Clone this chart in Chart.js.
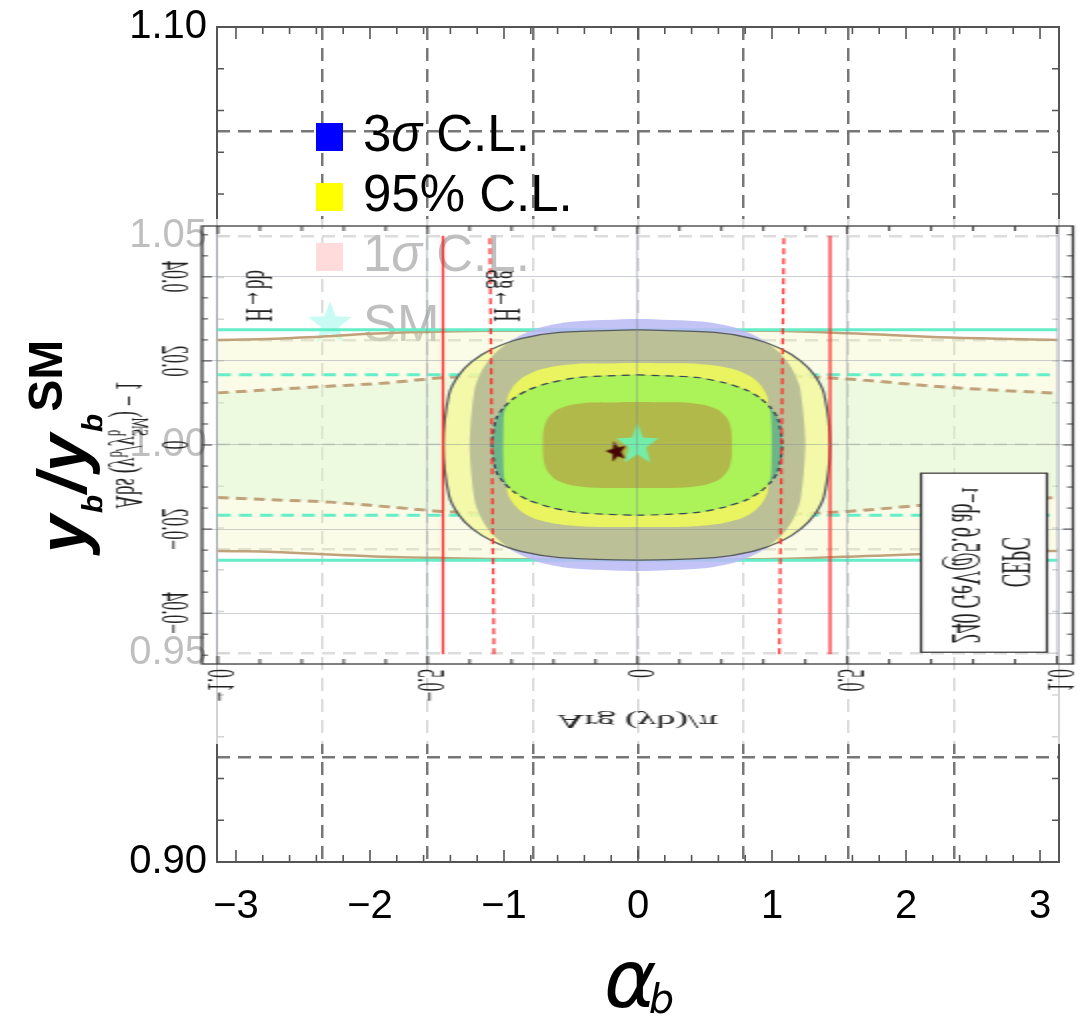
<!DOCTYPE html>
<html>
<head>
<meta charset="utf-8">
<script src="https://cdn.jsdelivr.net/npm/chart.js@4.4.1/dist/chart.umd.min.js"></script>
<style>
  html, body { margin: 0; padding: 0; background: #fff; }
  #wrap { position: relative; width: 1080px; height: 1019px; overflow: hidden; }
  #outer { position: absolute; left: 0; top: 0; }
  /* the inset is drawn at half width, then stretched and mirrored top-to-bottom */
  #inset { position: absolute; left: 102px; top: 219px; transform-origin: 0 50%; transform: scale(2, -1); }
</style>
</head>
<body>
<div id="wrap">
  <canvas id="outer" width="1080" height="1019" style="width:1080px;height:1019px"></canvas>
  <canvas id="inset" width="488" height="525" style="width:488px;height:525px"></canvas>
</div>
<script>
// ---------- outer axes: alpha_b vs y_b / y_b^SM ----------
const alphaTicks = [-3, -2, -1, 0, 1, 2, 3];
const alphaGrid = [-3 * Math.PI / 4, -Math.PI / 2, -Math.PI / 4, 0, Math.PI / 4, Math.PI / 2, 3 * Math.PI / 4];
const ratioGrid = [0.90, 0.925, 0.95, 0.975, 1.00, 1.025, 1.05, 1.075, 1.10];
const ratioTicks = [0.90, 0.95, 1.00, 1.05, 1.10];

const legendLabels = ['3σ C.L.', '95% C.L.', '1σ C.L.', 'SM'];
const legendColors = ['#0000ff', '#ffff00', '#ff7070', '#25f0d2'];

// ---------- inset: Arg(y_b)/pi vs Abs(y_b/y_b^SM) - 1 ----------
const argTicks = [-1, -0.5, 0, 0.5, 1];
const argTickText = ['−1.0', '−0.5', '0', '0.5', '1.0'];
const absTicks = [-0.04, -0.02, 0, 0.02, 0.04];
const absTickText = ['−0.04', '−0.02', '0', '0.02', '0.04'];

const bandX = [-1, -0.883, -0.75, -0.607, -0.464, -0.3, 0, 0.3, 0.5, 0.745, 1];
const brownUpper = [0.0250, 0.0252, 0.0258, 0.0266, 0.0270, 0.0272, 0.0273, 0.0272, 0.0266, 0.0256, 0.0250];
const brownLower = [-0.0252, -0.0254, -0.0260, -0.0266, -0.0269, -0.0272, -0.0273, -0.0272, -0.0266, -0.0257, -0.0252];
const brownDashUpper = [0.0124, 0.0131, 0.0139, 0.0147, 0.0160, 0.0165, 0.0167, 0.0166, 0.0157, 0.0137, 0.0123];
const brownDashLower = [-0.0125, -0.0130, -0.0135, -0.0146, -0.0158, -0.0165, -0.0167, -0.0166, -0.0158, -0.0138, -0.0125];

const cyanX = [-1, 1];
const cyanUpper = [0.0274, 0.0274];
const cyanLower = [-0.0274, -0.0274];
const cyanDashUpper = [0.0167, 0.0167];
const cyanDashLower = [-0.0167, -0.0167];

const lavenderRegion = [[0,0.0300],[0.16,0.0293],[0.24,0.0277],[0.30,0.0250],[0.34,0.0218],[0.368,0.0182],[0.388,0.0133],[0.40,0],[0.388,-0.0133],[0.368,-0.0182],[0.34,-0.0218],[0.30,-0.0250],[0.24,-0.0277],[0.16,-0.0293],[0,-0.0300],[-0.16,-0.0293],[-0.24,-0.0277],[-0.30,-0.0250],[-0.34,-0.0218],[-0.368,-0.0182],[-0.388,-0.0133],[-0.40,0],[-0.388,0.0133],[-0.368,0.0182],[-0.34,0.0218],[-0.30,0.0250],[-0.24,0.0277],[-0.16,0.0293],[0,0.0300]];
const paleYellowRegion = [[0,0.0274],[0.184,0.0268],[0.275,0.0253],[0.344,0.0228],[0.390,0.0199],[0.422,0.0166],[0.445,0.0121],[0.459,0],[0.445,-0.0121],[0.422,-0.0166],[0.390,-0.0199],[0.344,-0.0228],[0.275,-0.0253],[0.184,-0.0268],[0,-0.0274],[-0.185,-0.0268],[-0.278,-0.0253],[-0.347,-0.0228],[-0.394,-0.0199],[-0.426,-0.0166],[-0.449,-0.0121],[-0.463,0],[-0.449,0.0121],[-0.426,0.0166],[-0.394,0.0199],[-0.347,0.0228],[-0.278,0.0253],[-0.185,0.0268],[0,0.0274]];
const overlapRegion = [[0,0.0274],[0.16,0.0270],[0.24,0.0260],[0.30,0.0246],[0.34,0.0218],[0.368,0.0182],[0.388,0.0133],[0.40,0],[0.388,-0.0133],[0.368,-0.0182],[0.34,-0.0218],[0.30,-0.0246],[0.24,-0.0260],[0.16,-0.0270],[0,-0.0274],[-0.16,-0.0270],[-0.24,-0.0260],[-0.30,-0.0246],[-0.34,-0.0218],[-0.368,-0.0182],[-0.388,-0.0133],[-0.40,0],[-0.388,0.0133],[-0.368,0.0182],[-0.34,0.0218],[-0.30,0.0246],[-0.24,0.0260],[-0.16,0.0270],[0,0.0274]];
const yellowCore = [[0,0.0195],[0.128,0.0194],[0.192,0.0188],[0.24,0.0177],[0.272,0.0162],[0.294,0.0142],[0.310,0.0113],[0.32,0],[0.310,-0.0113],[0.294,-0.0142],[0.272,-0.0162],[0.24,-0.0177],[0.192,-0.0188],[0.128,-0.0194],[0,-0.0195],[-0.128,-0.0194],[-0.192,-0.0188],[-0.24,-0.0177],[-0.272,-0.0162],[-0.294,-0.0142],[-0.310,-0.0113],[-0.32,0],[-0.310,0.0113],[-0.294,0.0142],[-0.272,0.0162],[-0.24,0.0177],[-0.192,0.0188],[-0.128,0.0194],[0,0.0195]];
const tealCore = [[0,0.0167],[0.138,0.0161],[0.207,0.0148],[0.259,0.0131],[0.293,0.0111],[0.317,0.0089],[0.335,0.0062],[0.345,0],[0.335,-0.0062],[0.317,-0.0089],[0.293,-0.0111],[0.259,-0.0131],[0.207,-0.0148],[0.138,-0.0161],[0,-0.0167],[-0.139,-0.0161],[-0.208,-0.0148],[-0.260,-0.0131],[-0.295,-0.0111],[-0.319,-0.0089],[-0.337,-0.0062],[-0.347,0],[-0.337,0.0062],[-0.319,0.0089],[-0.295,0.0111],[-0.260,0.0131],[-0.208,0.0148],[-0.139,0.0161],[0,0.0167]];
const limeCore = [[0,0.0167],[0.138,0.0161],[0.207,0.0148],[0.259,0.0131],[0.293,0.0111],[0.310,0.0096],[0.318,0.0075],[0.32,0],[0.318,-0.0075],[0.310,-0.0096],[0.293,-0.0111],[0.259,-0.0131],[0.207,-0.0148],[0.138,-0.0161],[0,-0.0167],[-0.139,-0.0161],[-0.208,-0.0148],[-0.260,-0.0131],[-0.295,-0.0111],[-0.310,-0.0096],[-0.318,-0.0075],[-0.32,0],[-0.318,0.0075],[-0.310,0.0096],[-0.295,0.0111],[-0.260,0.0131],[-0.208,0.0148],[-0.139,0.0161],[0,0.0167]];
const oliveCore = [[0,0.0102],[0.11,0.0101],[0.16,0.0095],[0.195,0.0082],[0.216,0.0060],[0.224,0.0033],[0.225,0],[0.224,-0.0033],[0.216,-0.0060],[0.195,-0.0082],[0.16,-0.0095],[0.11,-0.0101],[0,-0.0102],[-0.11,-0.0101],[-0.16,-0.0095],[-0.195,-0.0082],[-0.216,-0.0060],[-0.224,-0.0033],[-0.225,0],[-0.224,0.0033],[-0.216,0.0060],[-0.195,0.0082],[-0.16,0.0095],[-0.11,0.0101],[0,0.0102]];

const bbLimit = [[-0.4635, -0.0498], [-0.4635, 0.0498]];
const bbLimitRight = [[0.459, -0.0498], [0.459, 0.0498]];
const ggLimit = [[-0.342, -0.0498], [-0.352, 0.0498]];
const ggLimitRight = [[0.338, -0.0498], [0.349, 0.0498]];

const smPoint = [[0, 0]];
const bestFit = [[-0.05, -0.0016]];

const channelLabels = ['H→bb', 'H→gg'];
const channelX = [-0.909, -0.32];
const channelY = 0.0355;

// ---------- helpers ----------
function range(a, b, step) {
  const out = [];
  for (let k = 0; a + k * step <= b + step / 1000; k++) out.push(+(a + k * step).toFixed(6));
  return out;
}
const onList = (v, list) => list.some(m => Math.abs(m - v) < 1e-6);
const pairs = arr => arr.map(([x, y]) => ({x, y}));
const zipXY = (xs, ys) => xs.map((x, i) => ({x, y: ys[i]}));

function starPath(g, cx, cy, R, r, start) {
  g.beginPath();
  for (let k = 0; k < 10; k++) {
    const ang = start + k * Math.PI / 5;
    const rad = k % 2 ? r : R;
    g.lineTo(cx + rad * Math.cos(ang), cy + rad * Math.sin(ang));
  }
  g.closePath();
}

// star sprite for the inset: half width (stretched later) and upside down (mirrored later)
function insetStar(h, color, tilt) {
  const c = document.createElement('canvas');
  c.width = Math.round(h / 2); c.height = h;
  const g = c.getContext('2d');
  g.translate(c.width / 2, h / 2);
  g.scale(0.5, 1);
  g.rotate(tilt);
  starPath(g, 0, 0, h / 2 - 1, (h / 2 - 1) * 0.42, Math.PI / 2);
  g.fillStyle = color;
  g.fill();
  return c;
}

function drawSigmaText(ctx, text, x, y, size) {
  ctx.fillStyle = '#000';
  ctx.textAlign = 'left';
  ctx.textBaseline = 'alphabetic';
  text.split(/(σ)/).forEach(part => {
    if (!part) return;
    ctx.font = (part === 'σ' ? 'italic ' : '') + size + 'px "Liberation Sans"';
    ctx.fillText(part, x, y);
    x += ctx.measureText(part).width;
  });
}

// ---------- outer chart ----------
const gridGray = 'rgba(95,95,95,0.85)';

const outerDecor = {
  id: 'outerDecor',
  afterDraw(chart) {
    const {ctx, chartArea: a, scales: {x, y}} = chart;
    ctx.save();
    ctx.strokeStyle = '#555';
    ctx.lineWidth = 2;
    ctx.strokeRect(a.left, a.top, a.right - a.left, a.bottom - a.top);

    ctx.lineWidth = 1.6;
    ctx.beginPath();
    range(-3, 3, 0.2).forEach(v => {
      const px = x.getPixelForValue(v);
      const len = onList(v, alphaTicks) ? 12 : 7;
      ctx.moveTo(px, a.bottom); ctx.lineTo(px, a.bottom - len);
      ctx.moveTo(px, a.top); ctx.lineTo(px, a.top + len);
    });
    range(0.90, 1.10, 0.01).forEach(v => {
      const py = y.getPixelForValue(v);
      const len = onList(v, ratioTicks) ? 12 : 7;
      ctx.moveTo(a.left, py); ctx.lineTo(a.left + len, py);
      ctx.moveTo(a.right, py); ctx.lineTo(a.right - len, py);
    });
    ctx.stroke();

    // legend
    const baselines = [151, 211, 271, 341];
    legendLabels.forEach((label, i) => {
      if (label === 'SM') {
        starPath(ctx, 330, 324, 23, 9.5, -Math.PI / 2);
        ctx.fillStyle = legendColors[i];
        ctx.fill();
      } else {
        ctx.fillStyle = legendColors[i];
        ctx.fillRect(316, baselines[i] - 28, 27, 28);
      }
      drawSigmaText(ctx, label, 363, baselines[i], 51);
    });

    // x title: alpha_b
    ctx.fillStyle = '#000';
    ctx.textAlign = 'left';
    ctx.textBaseline = 'alphabetic';
    ctx.font = 'italic 80px "DejaVu Sans"';
    ctx.fillText('α', 604, 1007);
    const wa = ctx.measureText('α').width;
    ctx.font = 'italic 40px "DejaVu Sans"';
    ctx.fillText('b', 604 + wa - 8, 1013);

    // y title: y_b / y_b^SM
    ctx.translate(86, 553);
    ctx.rotate(-Math.PI / 2);
    const run = [
      ['y', 'bold italic 68px', 0], ['b', 'bold italic 30px', 17],
      ['/', 'bold italic 68px', 0], ['y', 'bold italic 68px', 0],
      ['b', 'bold italic 30px', 17], ['SM', 'bold 48px', -24]
    ];
    let pos = 0;
    run.forEach(([t, f, dy]) => {
      ctx.font = f + ' "Liberation Sans"';
      ctx.fillText(t, pos, dy);
      pos += ctx.measureText(t).width + 2;
    });
    ctx.restore();
  }
};

const noEdgePadding = s => { s.paddingTop = 0; s.paddingBottom = 0; s.paddingLeft = 0; s.paddingRight = 0; };

new Chart(document.getElementById('outer'), {
  type: 'scatter',
  data: { datasets: [] },
  options: {
    responsive: false,
    animation: false,
    devicePixelRatio: 1,
    events: [],
    layout: { autoPadding: false, padding: { top: 27, right: 21, left: 0, bottom: 0 } },
    plugins: { legend: { display: false }, tooltip: { enabled: false } },
    scales: {
      x: {
        type: 'linear', position: 'bottom', min: -Math.PI, max: Math.PI,
        afterBuildTicks: s => { s.ticks = alphaTicks.map(v => ({ value: v })); },
        afterFit: s => { s.height = 157; noEdgePadding(s); },
        grid: { display: false },
        border: { display: false },
        ticks: {
          autoSkip: false, maxRotation: 0, padding: 13, color: '#000',
          font: { family: 'Liberation Sans', size: 40 },
          callback: v => String(v).replace('-', '−')
        }
      },
      xg: {
        type: 'linear', position: 'bottom', min: -Math.PI, max: Math.PI,
        afterBuildTicks: s => { s.ticks = alphaGrid.map(v => ({ value: v })); },
        afterFit: s => { s.height = 0; noEdgePadding(s); },
        ticks: { display: false },
        grid: { color: gridGray, lineWidth: 2.5, drawTicks: false },
        border: { display: false, dash: [13, 8] }
      },
      y: {
        type: 'linear', min: 0.90, max: 1.10,
        afterBuildTicks: s => { s.ticks = ratioGrid.map(v => ({ value: v })); },
        afterFit: s => { s.width = 217; noEdgePadding(s); },
        grid: {
          color: c => (c.tick && (c.tick.value === 0.90 || c.tick.value === 1.10)) ? 'rgba(0,0,0,0)' : gridGray,
          lineWidth: 2.5, drawTicks: false
        },
        border: { display: false, dash: [13, 8] },
        ticks: {
          autoSkip: false, padding: 10, color: '#000',
          font: { family: 'Liberation Sans', size: 40 },
          callback: v => onList(v, ratioTicks) ? v.toFixed(2) : ''
        }
      }
    }
  },
  plugins: [outerDecor]
});

// ---------- inset chart ----------
const serif = '"Liberation Serif", "DejaVu Serif", serif';
const tan = 'rgb(192,162,122)';
const aqua = 'rgb(100,238,200)';
const red = 'rgb(255,40,40)';

function curve(data, extra) {
  return Object.assign({ data, borderWidth: 2.5, pointRadius: 0, fill: false,
    cubicInterpolationMode: 'monotone', clip: 0 }, extra);
}
function region(loop, color) {
  return { data: pairs(loop), fill: 'shape', backgroundColor: color, borderWidth: 0,
    borderColor: 'rgba(0,0,0,0)', pointRadius: 0, tension: 0.25 };
}
function outline(loop, color, dash) {
  return { data: pairs(loop), fill: false, borderColor: color, borderWidth: 1.2,
    borderDash: dash || [], pointRadius: 0, tension: 0.25 };
}
function segment(seg, dash) {
  return { data: pairs(seg), borderColor: red, borderWidth: 1.2, borderDash: dash || [],
    pointRadius: 0, fill: false };
}
function marker(pt, img) {
  return { data: pairs(pt), showLine: false, pointStyle: img, pointRadius: 10, clip: false };
}

const layers = [
  curve(zipXY(bandX, brownUpper), { borderColor: tan, fill: '+1', backgroundColor: 'rgba(240,245,170,0.28)' }),
  curve(zipXY(bandX, brownLower), { borderColor: tan }),
  curve(zipXY(bandX, brownDashUpper), { borderColor: tan, borderWidth: 3, borderDash: [5.5, 3.5], fill: '+1', backgroundColor: 'rgba(205,245,205,0.30)' }),
  curve(zipXY(bandX, brownDashLower), { borderColor: tan, borderWidth: 3, borderDash: [5.5, 3.5] }),
  curve(zipXY(cyanX, cyanUpper), { borderColor: aqua, borderWidth: 3 }),
  curve(zipXY(cyanX, cyanLower), { borderColor: aqua, borderWidth: 3 }),
  curve(zipXY(cyanX, cyanDashUpper), { borderColor: aqua, borderWidth: 3, borderDash: [6.5, 4] }),
  curve(zipXY(cyanX, cyanDashLower), { borderColor: aqua, borderWidth: 3, borderDash: [6.5, 4] }),
  region(lavenderRegion, 'rgba(185,185,245,0.85)'),
  region(paleYellowRegion, 'rgba(245,248,160,0.85)'),
  region(overlapRegion, 'rgba(180,186,148,0.88)'),
  region(yellowCore, 'rgba(238,250,90,0.9)'),
  region(tealCore, 'rgba(100,180,135,0.9)'),
  region(limeCore, 'rgba(178,250,85,0.9)'),
  region(oliveCore, 'rgba(176,178,72,0.9)'),
  outline(tealCore, 'rgb(55,65,85)', [4, 3]),
  outline(paleYellowRegion, 'rgb(85,90,95)'),
  segment(bbLimit),
  segment(bbLimitRight),
  segment(ggLimit, [6, 4]),
  segment(ggLimitRight, [6, 4]),
  marker(smPoint, insetStar(46, 'rgb(115,238,168)', 0)),
  marker(bestFit, insetStar(24, 'rgb(70,5,5)', 0.25))
];
layers.forEach((d, i) => { d.order = layers.length - i; });

const insetGrid = 'rgba(120,132,148,0.38)';

const insetDecor = {
  id: 'insetDecor',
  beforeDraw(chart) {
    const ctx = chart.ctx;
    ctx.save();
    ctx.fillStyle = 'rgba(255,255,255,0.75)';
    ctx.fillRect(0, 0, chart.width, chart.height);
    ctx.restore();
  },
  afterDraw(chart) {
    const {ctx, chartArea: a, scales: {x, y}} = chart;
    ctx.save();
    ctx.strokeStyle = '#3c3c3c';
    ctx.lineWidth = 1.3;
    ctx.strokeRect(a.left, a.top, a.right - a.left, a.bottom - a.top);

    ctx.lineWidth = 1;
    ctx.beginPath();
    range(-1, 1, 0.1).forEach(v => {
      const px = x.getPixelForValue(v);
      const len = onList(v, argTicks) ? 8 : 5;
      ctx.moveTo(px, a.top); ctx.lineTo(px, a.top + len);
      ctx.moveTo(px, a.bottom); ctx.lineTo(px, a.bottom - len);
    });
    range(-0.05, 0.05, 0.005).forEach(v => {
      const py = y.getPixelForValue(v);
      const len = onList(v, absTicks) ? 5 : 3;
      ctx.moveTo(a.left, py); ctx.lineTo(a.left + len, py);
      ctx.moveTo(a.right, py); ctx.lineTo(a.right - len, py);
    });
    ctx.stroke();

    const rotated = (text, px, py, align) => {
      ctx.save();
      ctx.translate(px, py);
      ctx.rotate(Math.PI / 2);
      ctx.textAlign = align;
      ctx.textBaseline = 'middle';
      ctx.fillText(text, 0, 0);
      ctx.restore();
    };

    ctx.fillStyle = '#222';
    ctx.font = '18px ' + serif;
    argTicks.forEach((v, i) => rotated(argTickText[i], x.getPixelForValue(v), a.top - 5, 'right'));
    absTicks.forEach((v, i) => rotated(absTickText[i], 35, y.getPixelForValue(v), 'center'));

    // channel labels
    ctx.font = '19px ' + serif;
    channelLabels.forEach((t, i) => rotated(t, x.getPixelForValue(channelX[i]), y.getPixelForValue(channelY), 'center'));

    // y title: Abs (y_b / y_b^SM) - 1
    ctx.save();
    ctx.translate(12, y.getPixelForValue(0));
    ctx.rotate(Math.PI / 2);
    ctx.textBaseline = 'middle';
    ctx.textAlign = 'left';
    const big = '19px ' + serif, small = '13px ' + serif;
    const parts = [['Abs (y', big, 0], ['b', small, 5], ['/y', big, 0], [['SM', 'b'], small, 0], [') − 1', big, 0]];
    const width = p => {
      ctx.font = p[1];
      return Array.isArray(p[0]) ? Math.max(...p[0].map(s => ctx.measureText(s).width)) : ctx.measureText(p[0]).width;
    };
    let pos = -parts.reduce((s, p) => s + width(p), 0) / 2;
    parts.forEach(p => {
      const w = width(p);
      ctx.font = p[1];
      if (Array.isArray(p[0])) {
        ctx.fillText(p[0][0], pos, -6);
        ctx.fillText(p[0][1], pos, 6);
      } else {
        ctx.fillText(p[0], pos, p[2]);
      }
      pos += w;
    });
    ctx.restore();

    // run label box
    const bx0 = x.getPixelForValue(0.676), bx1 = x.getPixelForValue(0.976);
    const by0 = y.getPixelForValue(-0.0493), by1 = y.getPixelForValue(-0.0067);
    ctx.fillStyle = '#fff';
    ctx.fillRect(bx0, by0, bx1 - bx0, by1 - by0);
    ctx.strokeStyle = '#333';
    ctx.lineWidth = 1.2;
    ctx.strokeRect(bx0, by0, bx1 - bx0, by1 - by0);
    ctx.fillStyle = '#222';
    ctx.font = '20px ' + serif;
    rotated('CEPC', x.getPixelForValue(0.895), y.getPixelForValue(-0.0279), 'center');
    rotated('240 GeV@5.6 ab⁻¹', x.getPixelForValue(0.776), y.getPixelForValue(-0.0286), 'center');
    ctx.restore();
  }
};

new Chart(document.getElementById('inset'), {
  type: 'line',
  data: { datasets: layers },
  options: {
    responsive: false,
    animation: false,
    devicePixelRatio: 1,
    events: [],
    layout: { autoPadding: false, padding: { top: 0, left: 0, right: 2.5, bottom: 7 } },
    plugins: { legend: { display: false }, tooltip: { enabled: false } },
    scales: {
      x: {
        type: 'linear', position: 'top', min: -1.038, max: 1.038,
        afterBuildTicks: s => { s.ticks = argTicks.map(v => ({ value: v })); },
        afterFit: s => { s.height = 80; noEdgePadding(s); },
        ticks: { display: false },
        grid: { color: insetGrid, lineWidth: 1, drawTicks: false, z: 1 },
        border: { display: false },
        title: { display: true, text: 'Arg (yb)/π', color: '#222',
          font: { family: 'Liberation Serif', size: 19 }, padding: { top: 13, bottom: 0 } }
      },
      y: {
        type: 'linear', min: -0.0521, max: 0.0521, reverse: true,
        afterBuildTicks: s => { s.ticks = absTicks.map(v => ({ value: v })); },
        afterFit: s => { s.width = 50; noEdgePadding(s); },
        ticks: { display: false },
        grid: { color: insetGrid, lineWidth: 1, drawTicks: false, z: 1 },
        border: { display: false }
      }
    }
  },
  plugins: [insetDecor]
});
</script>
</body>
</html>
